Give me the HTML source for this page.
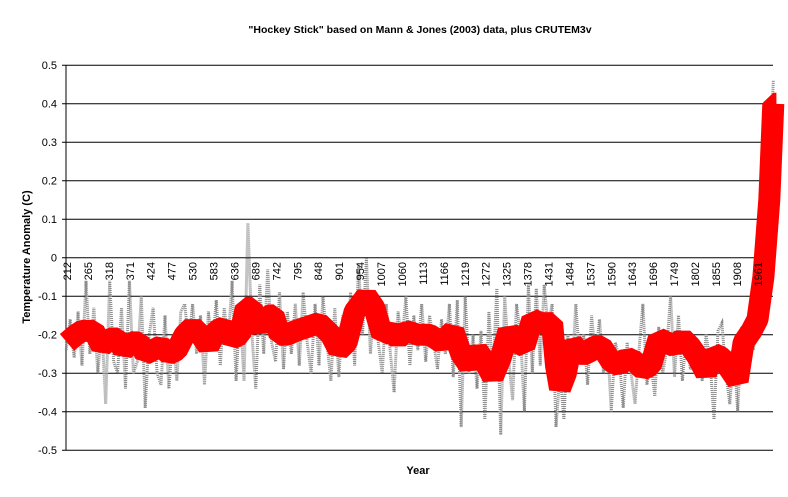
<!DOCTYPE html>
<html><head><meta charset="utf-8"><style>
html,body{margin:0;padding:0;background:#fff;}
svg{display:block;font-family:"Liberation Sans",Arial,sans-serif;}
</style></head><body>
<svg id="chart" width="788" height="497" viewBox="0 0 788 497" xmlns="http://www.w3.org/2000/svg">
<text x="420" y="33" text-anchor="middle" font-size="10.5" font-weight="bold">"Hockey Stick" based on Mann &amp; Jones (2003) data, plus CRUTEM3v</text>
<text transform="translate(30,257) rotate(-90)" text-anchor="middle" font-size="11" font-weight="bold">Temperature Anomaly (C)</text>
<text x="418" y="474" text-anchor="middle" font-size="11" font-weight="bold">Year</text>
<g id="grid"></g>
<g id="yticks"></g>
<g id="gray"></g>
<g id="red"></g>
<g id="xticks"></g>
</svg>
<script>
const yTicks=[0.5,0.4,0.3,0.2,0.1,0,-0.1,-0.2,-0.3,-0.4,-0.5];
const yTickLabels=["0.5","0.4","0.3","0.2","0.1","0","-0.1","-0.2","-0.3","-0.4","-0.5"];
const xTickYears=[212,265,318,371,424,477,530,583,636,689,742,795,848,901,954,1007,1060,1113,1166,1219,1272,1325,1378,1431,1484,1537,1590,1643,1696,1749,1802,1855,1908,1961];
const grayStartYear=210;
const grayStepYears=10;
const grayValues=[-0.24,-0.16,-0.26,-0.14,-0.28,-0.06,-0.25,-0.13,-0.30,-0.18,
-0.38,-0.06,-0.27,-0.30,-0.13,-0.34,-0.06,-0.30,-0.27,-0.10,
-0.39,-0.20,-0.13,-0.30,-0.33,-0.15,-0.34,-0.20,-0.32,-0.14,
-0.12,-0.22,-0.12,-0.25,-0.15,-0.33,-0.14,-0.23,-0.11,-0.28,
-0.13,-0.22,-0.06,-0.32,-0.13,-0.32,0.09,-0.20,-0.34,-0.07,
-0.25,-0.03,-0.22,-0.27,-0.09,-0.29,-0.14,-0.25,-0.12,-0.28,
-0.09,-0.22,-0.30,-0.12,-0.28,-0.10,-0.22,-0.32,-0.13,-0.31,
-0.15,-0.24,-0.09,-0.28,-0.02,-0.20,0.00,-0.25,-0.12,-0.22,
-0.30,-0.12,-0.24,-0.35,-0.14,-0.22,-0.10,-0.28,-0.15,-0.24,
-0.12,-0.27,-0.15,-0.22,-0.29,-0.16,-0.25,-0.12,-0.31,-0.11,
-0.44,-0.10,-0.30,-0.20,-0.34,-0.19,-0.42,-0.14,-0.31,-0.08,
-0.46,-0.10,-0.26,-0.37,-0.12,-0.20,-0.40,-0.07,-0.30,-0.08,
-0.28,-0.07,-0.18,-0.12,-0.44,-0.30,-0.42,-0.20,-0.32,-0.12,
-0.27,-0.20,-0.33,-0.15,-0.26,-0.16,-0.30,-0.22,-0.40,-0.22,
-0.26,-0.39,-0.22,-0.30,-0.38,-0.24,-0.12,-0.33,-0.27,-0.36,
-0.18,-0.30,-0.24,-0.10,-0.31,-0.15,-0.32,-0.20,-0.29,-0.26,
-0.24,-0.32,-0.20,-0.27,-0.42,-0.19,-0.17,-0.30,-0.38,-0.24,
-0.40,-0.18,-0.22,-0.16,-0.24,-0.11,-0.18,-0.05,0.20,0.46];
const redYears=[212,235,250,280,300,320,340,355,375,395,410,430,450,470,490,510,530,550,570,590,610,630,650,665,680,690,700,720,735,750,770,790,820,850,880,900,920,940,955,970,990,1010,1030,1050,1070,1100,1130,1160,1190,1210,1230,1250,1270,1290,1310,1330,1350,1370,1390,1410,1440,1450,1460,1475,1490,1510,1530,1545,1565,1590,1610,1630,1650,1670,1690,1710,1730,1750,1770,1790,1810,1830,1850,1870,1890,1910,1925,1945,1960,1975,1990,2000,2008];
const redValues=[-0.22,-0.20,-0.19,-0.19,-0.23,-0.21,-0.21,-0.24,-0.22,-0.22,-0.25,-0.24,-0.23,-0.25,-0.24,-0.20,-0.18,-0.20,-0.23,-0.19,-0.18,-0.21,-0.20,-0.13,-0.13,-0.17,-0.18,-0.15,-0.15,-0.20,-0.20,-0.19,-0.18,-0.17,-0.20,-0.24,-0.22,-0.14,-0.12,-0.10,-0.13,-0.20,-0.19,-0.21,-0.19,-0.20,-0.20,-0.22,-0.19,-0.25,-0.28,-0.24,-0.27,-0.31,-0.26,-0.19,-0.22,-0.23,-0.16,-0.17,-0.17,-0.28,-0.34,-0.30,-0.22,-0.25,-0.25,-0.23,-0.23,-0.27,-0.28,-0.26,-0.27,-0.29,-0.28,-0.21,-0.22,-0.23,-0.21,-0.23,-0.26,-0.30,-0.25,-0.26,-0.29,-0.32,-0.22,-0.19,-0.16,-0.05,0.15,0.40,0.40];

const NS="http://www.w3.org/2000/svg";
const X0=67, PXYR=0.395, Y0=257.7, PXV=385, PLOT_L=66, PLOT_R=773;
function xs(yr){return X0+(yr-212)*PXYR;}
function ys(v){return Y0-v*PXV;}
function mk(tag,attrs,parent){const e=document.createElementNS(NS,tag);for(const k in attrs)e.setAttribute(k,attrs[k]);parent.appendChild(e);return e;}

const grid=document.getElementById('grid'), yt=document.getElementById('yticks');
yTicks.forEach((v,i)=>{
  const l=mk('line',{x1:PLOT_L-4,x2:PLOT_R,y1:ys(v),y2:ys(v),stroke:'#000','stroke-width':1},grid);
  
  
  const t=mk('text',{x:57,y:ys(v)+4,'text-anchor':'end','font-size':11},yt);
  t.textContent=yTickLabels[i];
  
  
});
const ax=mk('line',{x1:PLOT_L,x2:PLOT_L,y1:ys(0.5),y2:ys(-0.5),stroke:'#000','stroke-width':1},grid);



const gp=grayValues.map((v,i)=>xs(grayStartYear+i*grayStepYears).toFixed(1)+','+ys(v).toFixed(1)).join(' ');
const g=mk('polyline',{points:gp,fill:'none',stroke:'#8a8a8a','stroke-width':3,'stroke-dasharray':'1,1'},document.getElementById('gray'));



const rp=redValues.map((v,i)=>xs(redYears[i]).toFixed(1)+','+ys(v).toFixed(1)).join(' ');
const r=mk('polyline',{points:rp,fill:'none',stroke:'#ff0000','stroke-width':22,'stroke-linejoin':'bevel'},document.getElementById('red'));



const xt=document.getElementById('xticks');
xTickYears.forEach(yr=>{
  const x=xs(yr)+4;
  const t=mk('text',{transform:'translate('+x.toFixed(1)+',262) rotate(-90)','text-anchor':'end','font-size':11},xt);
  t.textContent=yr;
  
  
});
</script>
</body></html>
